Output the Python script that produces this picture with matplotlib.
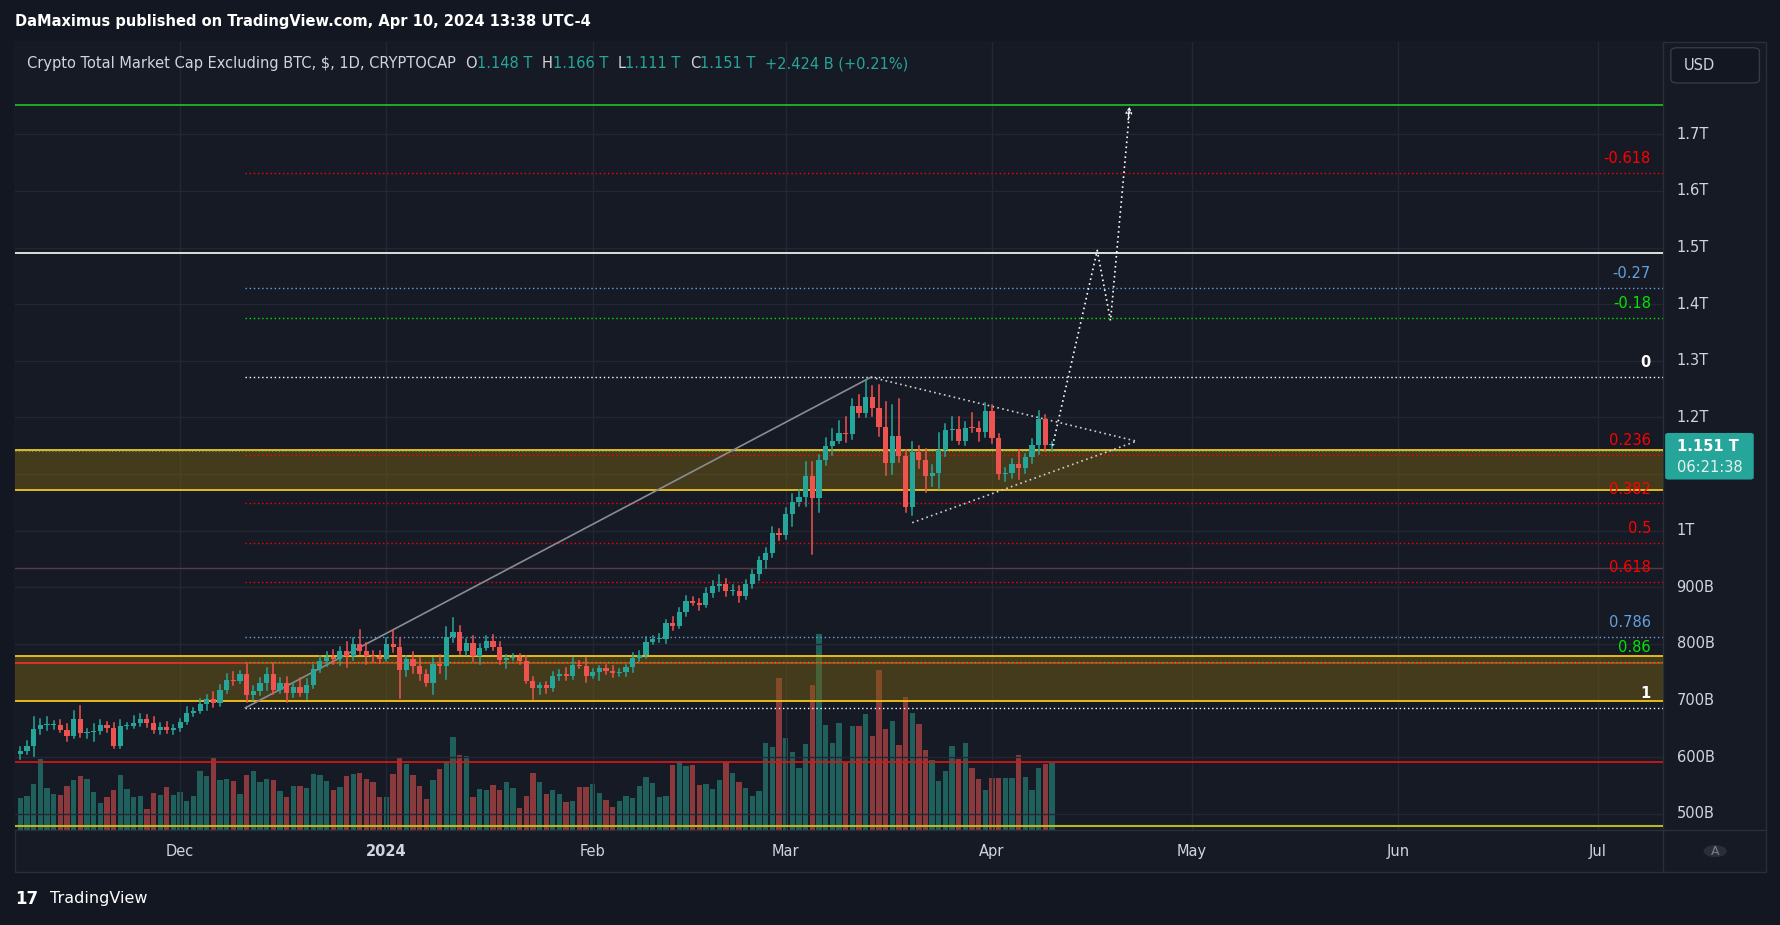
import matplotlib
matplotlib.use("Agg")
import matplotlib.pyplot as plt
import numpy as np
from matplotlib.patches import FancyBboxPatch, Rectangle

# ---------------- data (billions USD) ----------------
start_date = "2023-11-07"
closes = [611,620,650,657,657,657,648,638,668,642,644,646,657,652,620,655,655,661,668,660,648,654,647,652,
          662,678,682,694,703,695,719,737,734,746,710,716,731,746,719,730,714,724,714,728,756,770,776,
          773,787,779,800,788,778,776,774,800,795,754,773,761,746,731,765,760,812,821,788,801,779,793,805,
          795,772,775,776,770,735,722,727,722,743,747,744,763,761,743,750,757,752,748,750,759,775,781,
          804,808,808,837,832,857,876,873,869,889,903,905,894,894,884,905,923,948,960,996,992,1030,1051,
          1060,1097,1057,1124,1149,1159,1173,1170,1220,1208,1236,1217,1183,1120,
          1168,1132,1041,1139,1125,1097,1102,1143,1178,1180,1159,1182,1181,1175,1212,1164,1100,1101,1117,
          1111,1130,1151,1197,1151,1151]
first_open = 605
upper_wick = [6,8,20,10,14,6,8,10,14,22,6,12,9,5,8,10,6,12,8,6,10,6,8,5,
              6,10,5,8,6,12,8,10,14,6,18,10,8,12,20,10,12,6,16,10,6,8,10,
              14,8,16,10,25,14,10,12,10,24,16,6,12,14,8,10,16,18,25,10,8,12,6,8,
              10,8,6,6,6,8,6,4,6,8,6,10,12,6,14,6,4,6,8,6,4,8,6,
              8,6,10,6,10,6,8,6,6,10,8,16,10,10,8,8,8,6,10,10,6,10,14,
              12,24,24,10,14,20,20,28,12,20,30,20,40,44,54,64,
              10,18,10,20,14,30,10,20,20,10,26,10,14,10,6,10,10,26,6,10,
              14,8,6,14,12]
lower_wick = [8,6,18,10,10,8,4,10,4,6,8,16,6,8,4,4,6,4,6,6,6,8,4,6,
              6,4,6,4,10,6,4,6,6,4,12,10,6,12,8,6,16,8,6,12,6,6,10,
              8,10,20,8,6,14,8,8,4,10,50,10,12,10,6,20,12,22,8,6,8,10,14,4,
              6,8,14,4,6,4,20,10,8,6,6,8,6,4,10,4,14,6,6,4,6,8,6,
              6,4,4,6,8,4,8,4,10,4,6,10,10,8,10,4,6,10,14,6,8,6,22,
              8,16,98,24,8,16,4,14,8,8,8,14,16,22,20,10,
              8,14,15,28,18,28,12,18,6,8,6,16,10,10,8,12,8,20,10,10,
              16,10,10,6,38]
volumes = [94,100,136,211,124,106,103,130,148,160,151,112,79,97,118,163,121,97,100,61,109,103,127,103,
           112,85,100,175,160,214,148,151,145,106,163,175,142,151,148,115,97,130,130,124,166,163,145,
           118,127,160,166,169,151,142,97,97,166,217,196,163,130,91,148,181,202,277,223,220,97,121,118,133,
           118,142,124,64,100,169,142,106,118,106,82,85,127,127,136,109,88,67,85,100,94,130,
           157,139,97,100,193,205,190,193,133,136,121,148,202,169,142,124,100,115,259,247,454,274,232,184,
           256,433,586,313,259,319,200,310,310,346,280,478,301,325,253,397,349,316,238,208,145,175,250,
           211,259,184,151,118,154,154,154,154,223,157,118,184,196,199]

fib_low, fib_high = 687, 1271
fib_ratios = [-0.618, -0.27, -0.18, 0, 0.236, 0.382, 0.5, 0.618, 0.786, 0.86, 1]
fib_labels = ["-0.618", "-0.27", "-0.18", "0", "0.236", "0.382", "0.5", "0.618", "0.786", "0.86", "1"]
fib_colors = ["#ff0000", "#64a0dc", "#00e600", "#ffffff", "#ff0000", "#ff0000", "#ff0000",
              "#ff0000", "#64a0dc", "#00e600", "#ffffff"]
fib_start_day = 33.8
trend_days = [33.8, 127.8]
trend_prices = [687, 1271]
tri_upper_days = [127.8, 167.7]; tri_upper_prices = [1271, 1158]
tri_lower_days = [134.0, 167.7]; tri_lower_prices = [1014, 1158]
path_days = [155.1, 161.8, 163.8, 166.7]
path_prices = [1150, 1495, 1371, 1746]
zone_upper = (1072, 1142)
zone_lower = (699, 779)
green_line = 1752
white_line = 1491
red_lines = [767, 592]
dim_line = 934
month_days = [24, 55, 86, 115, 146, 176, 207, 237]
month_labels = ["Dec", "2024", "Feb", "Mar", "Apr", "May", "Jun", "Jul"]
price_ticks = [500, 600, 700, 800, 900, 1000, 1200, 1300, 1400, 1500, 1600, 1700]
price_labels = ["500B", "600B", "700B", "800B", "900B", "1T", "1.2T", "1.3T", "1.4T", "1.5T", "1.6T", "1.7T"]

# ---------------- figure ----------------
W, H = 1568.0, 814.0
BG = "#131722"
PANEL = "#161a25"
UP, DN = "#26a69a", "#ef5350"
VUP, VDN = "#1f5f5c", "#8a3a3d"
GRID = "#232733"
TXT = "#d1d4dc"
FONT = "DejaVu Sans"

fig = plt.figure(figsize=(17.81, 9.25), dpi=100, facecolor=BG)

def fx(x): return x / W
def fy(y): return 1 - y / H

panel = Rectangle((fx(13), fy(767)), fx(1555) - fx(13), fy(37) - fy(767),
                  transform=fig.transFigure, facecolor=PANEL, edgecolor="#2a2e39", lw=1, zorder=-10)
fig.patches.append(panel)

axpos = [fx(13), fy(730), fx(1464) - fx(13), fy(37) - fy(730)]
axv = fig.add_axes(axpos, zorder=1)
ax = fig.add_axes(axpos, zorder=2)
axv.set_facecolor(PANEL)
ax.patch.set_visible(False)

n = len(closes)
days = np.arange(n)
opens = [first_open] + closes[:-1]
xlim = (-0.85, 246.8)
ylim = (472, 1863)

vcols = [VUP if c >= o else VDN for o, c in zip(opens, closes)]
axv.bar(days, volumes, width=0.8, color=vcols, zorder=1)
axv.set_xlim(*xlim)
axv.set_ylim(0, 2361)
axv.set_xticks([]); axv.set_yticks([])
for s in axv.spines.values(): s.set_visible(False)

for d in month_days:
    ax.axvline(d, color=GRID, lw=1, zorder=0)
for p in price_ticks + [1100]:
    ax.axhline(p, color=GRID, lw=1, zorder=0)

for lo, hi in [zone_upper, zone_lower]:
    ax.axhspan(lo, hi, color="#7a6410", alpha=0.45, lw=0, zorder=1)
    ax.axhline(lo, color="#f5c518", lw=1.3, zorder=3)
    ax.axhline(hi, color="#f5c518", lw=1.3, zorder=3)
ax.axhline(green_line, color="#22c322", lw=1.2, zorder=3)
ax.axhline(white_line, color="#ffffff", lw=1.2, zorder=3)
ax.axhline(red_lines[0], color="#e8321e", lw=1.3, zorder=3)
ax.axhline(red_lines[1], color="#d01818", lw=1.3, zorder=3)
ax.axhline(dim_line, color="#5a3a45", lw=1, zorder=2)
ax.axhline(1140, color="#26a69a", lw=0.8, ls=(0, (1, 2)), zorder=2)
ax.axhline(478, color="#b8b820", lw=1.5, zorder=3)

for r, lab, col in zip(fib_ratios, fib_labels, fib_colors):
    lvl = fib_high - r * (fib_high - fib_low)
    ax.plot([fib_start_day, xlim[1]], [lvl, lvl], color=col, lw=1, ls=(0, (1, 2)), zorder=3)
    ax.text(245.0, lvl + 12, lab, color=col, fontsize=10.5, fontfamily=FONT,
            ha="right", va="bottom", zorder=6,
            fontweight="bold" if col == "#ffffff" else "normal")

ax.plot(trend_days, trend_prices, color="#8a8c93", lw=1.2, zorder=4)
ax.plot(tri_upper_days, tri_upper_prices, color="#d0d0d0", lw=1.2, ls=(0, (1, 2)), zorder=4)
ax.plot(tri_lower_days, tri_lower_prices, color="#d0d0d0", lw=1.2, ls=(0, (1, 2)), zorder=4)
ax.plot(path_days, path_prices, color="#ffffff", lw=1.2, ls=(0, (1, 2)), zorder=6)
ax.annotate("", xy=(path_days[-1], path_prices[-1] + 8), xytext=(path_days[-1] - 0.3, path_prices[-1] - 25),
            arrowprops=dict(arrowstyle="-|>", color="#ffffff", lw=1, ls=":", fill=False), zorder=6)

for i in range(n):
    o, c = opens[i], closes[i]
    col = UP if c >= o else DN
    hi = max(o, c) + upper_wick[i]
    lo = min(o, c) - lower_wick[i]
    ax.plot([days[i], days[i]], [lo, hi], color=col, lw=1.1, zorder=5)
    body = max(abs(c - o), 1.5)
    ax.bar(days[i], body, bottom=min(o, c), width=0.78, color=col, zorder=5, lw=0)

ax.set_xlim(*xlim)
ax.set_ylim(*ylim)
ax.set_xticks([]); ax.set_yticks([])
for s in ax.spines.values(): s.set_visible(False)

for p, lab in zip(price_ticks, price_labels):
    yy = ax.transData.transform((0, p))[1]
    yfig = fig.transFigure.inverted().transform((0, yy))[1]
    fig.text(fx(1476), yfig, lab, color=TXT, fontsize=10.5, fontfamily=FONT, va="center", ha="left")
fig.add_artist(plt.Line2D([fx(1464), fx(1464)], [fy(767), fy(37)], color="#2a2e39", lw=1))
fig.add_artist(plt.Line2D([fx(13), fx(1555)], [fy(730), fy(730)], color="#2a2e39", lw=1))

for d, lab in zip(month_days, month_labels):
    xx = ax.transData.transform((d, 0))[0]
    xfig = fig.transFigure.inverted().transform((xx, 0))[0]
    fig.text(xfig, fy(749), lab, color=TXT, fontsize=10.5, fontfamily=FONT, ha="center", va="center",
             fontweight="bold" if lab == "2024" else "normal")

fig.patches.append(FancyBboxPatch((fx(1466), fy(422)), fx(1544) - fx(1466), fy(381) - fy(422),
                                  boxstyle="round,pad=0,rounding_size=0.002", transform=fig.transFigure,
                                  facecolor="#26a69a", edgecolor="none", zorder=5))
fig.text(fx(1476), fy(393), "1.151 T", color="#ffffff", fontsize=10.5, fontfamily=FONT, va="center", fontweight="bold", zorder=6)
fig.text(fx(1476), fy(411), "06:21:38", color="#e6f2f0", fontsize=10.5, fontfamily=FONT, va="center", zorder=6)

fig.patches.append(FancyBboxPatch((fx(1471), fy(73)), fx(1549) - fx(1471), fy(42) - fy(73),
                                  boxstyle="round,pad=0,rounding_size=0.004", transform=fig.transFigure,
                                  facecolor="#131722", edgecolor="#363a45", lw=1, zorder=5))
fig.text(fx(1482), fy(58), "USD", color=TXT, fontsize=10.5, fontfamily=FONT, va="center", zorder=6)

fig.patches.append(plt.Circle((fx(1510), fy(749)), 0.0065, transform=fig.transFigure,
                              facecolor="#2a2e39", edgecolor="none", zorder=5))
fig.text(fx(1510), fy(749), "A", color="#787b86", fontsize=9, fontfamily=FONT, ha="center", va="center", zorder=6)

fig.text(fx(13), fy(19), "DaMaximus published on TradingView.com, Apr 10, 2024 13:38 UTC-4",
         color="#ffffff", fontsize=10.5, fontfamily=FONT, va="center", fontweight="bold")
legend_parts = [("Crypto Total Market Cap Excluding BTC, $, 1D, CRYPTOCAP  ", TXT),
                ("O", TXT), ("1.148 T  ", UP), ("H", TXT), ("1.166 T  ", UP),
                ("L", TXT), ("1.111 T  ", UP), ("C", TXT), ("1.151 T  ", UP), ("+2.424 B (+0.21%)", UP)]
xcur = fx(24)
renderer = fig.canvas.get_renderer()
for txt, col in legend_parts:
    t = fig.text(xcur, fy(56), txt, color=col, fontsize=10.5, fontfamily=FONT, va="center", zorder=6)
    bb = t.get_window_extent(renderer=renderer)
    xcur += bb.width / fig.bbox.width

fig.text(fx(13), fy(791), "17", color="#ffffff", fontsize=12, fontfamily=FONT, va="center", fontweight="bold")
fig.text(fx(44), fy(791), "TradingView", color="#ffffff", fontsize=11.5, fontfamily=FONT, va="center")

fig.savefig("out.png", dpi=100, facecolor=BG)
